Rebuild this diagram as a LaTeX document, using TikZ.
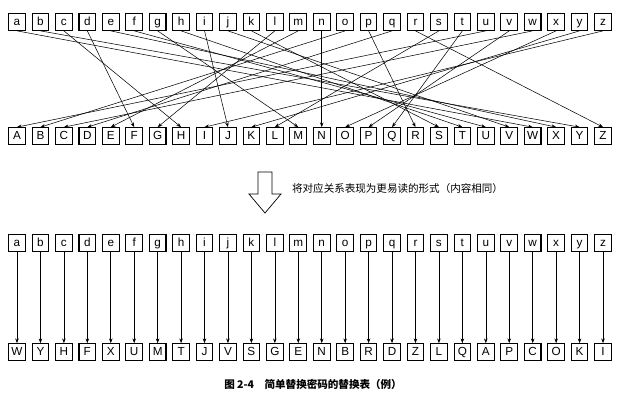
\documentclass[tikz,border=0pt]{standalone}
\usepackage{fontspec}
\setmainfont{Liberation Sans}
\newfontfamily\cjk{Noto Sans CJK SC}
\usetikzlibrary{arrows.meta}
\begin{document}
\begin{tikzpicture}[x=0.03cm,y=-0.03cm,
  lbox/.style={draw,line width=0.9pt,minimum width=0.5cm,minimum height=0.5cm,text height=1.6ex,text depth=0.45ex,inner sep=0pt,font=\normalsize},
  conn/.style={-{Stealth[length=4pt,width=3pt]},line width=0.45pt}]
\useasboundingbox (0,0) rectangle (626,408);
\def\low{a,b,c,d,e,f,g,h,i,j,k,l,m,n,o,p,q,r,s,t,u,v,w,x,y,z}
\def\up{A,B,C,D,E,F,G,H,I,J,K,L,M,N,O,P,Q,R,S,T,U,V,W,X,Y,Z}
\def\key{W,Y,H,F,X,U,M,T,J,V,S,G,E,N,B,R,D,Z,L,Q,A,P,C,O,K,I}
\foreach \c [count=\i from 0] in \low {
  \node[lbox] (t\c) at (17+23.44*\i,22) {\c};
  \node[lbox] (b\c) at (17+23.44*\i,243) {\c};}
\foreach \c [count=\i from 0] in \up {
  \node[lbox] (s\c) at (17+23.44*\i,136) {\c};}
\foreach \c [count=\i from 0] in \key {
  \node[lbox] (k\i) at (17+23.44*\i,352) {\c};}
\foreach \p [count=\i from 0] in \key {
  \pgfmathparse{{"a","b","c","d","e","f","g","h","i","j","k","l","m","n","o","p","q","r","s","t","u","v","w","x","y","z"}[\i]}
  \edef\l{\pgfmathresult}
  \draw[conn] (t\l.south) -- (s\p.north);
  \draw[conn] (b\l.south) -- (k\i.north);}
\draw[line width=0.6pt] (258,172) -- (272,172) -- (272,194) -- (281,194) -- (265,213) -- (249,194) -- (258,194) -- cycle;
\node[anchor=west,font=\cjk\small] (note) at (288,188) {将对应关系表现为更易读的形式（内容相同）};
\node[font=\cjk\small\bfseries] (cap) at (313,384) {图 2-4\quad 简单替换密码的替换表（例）};
\end{tikzpicture}
\end{document}
